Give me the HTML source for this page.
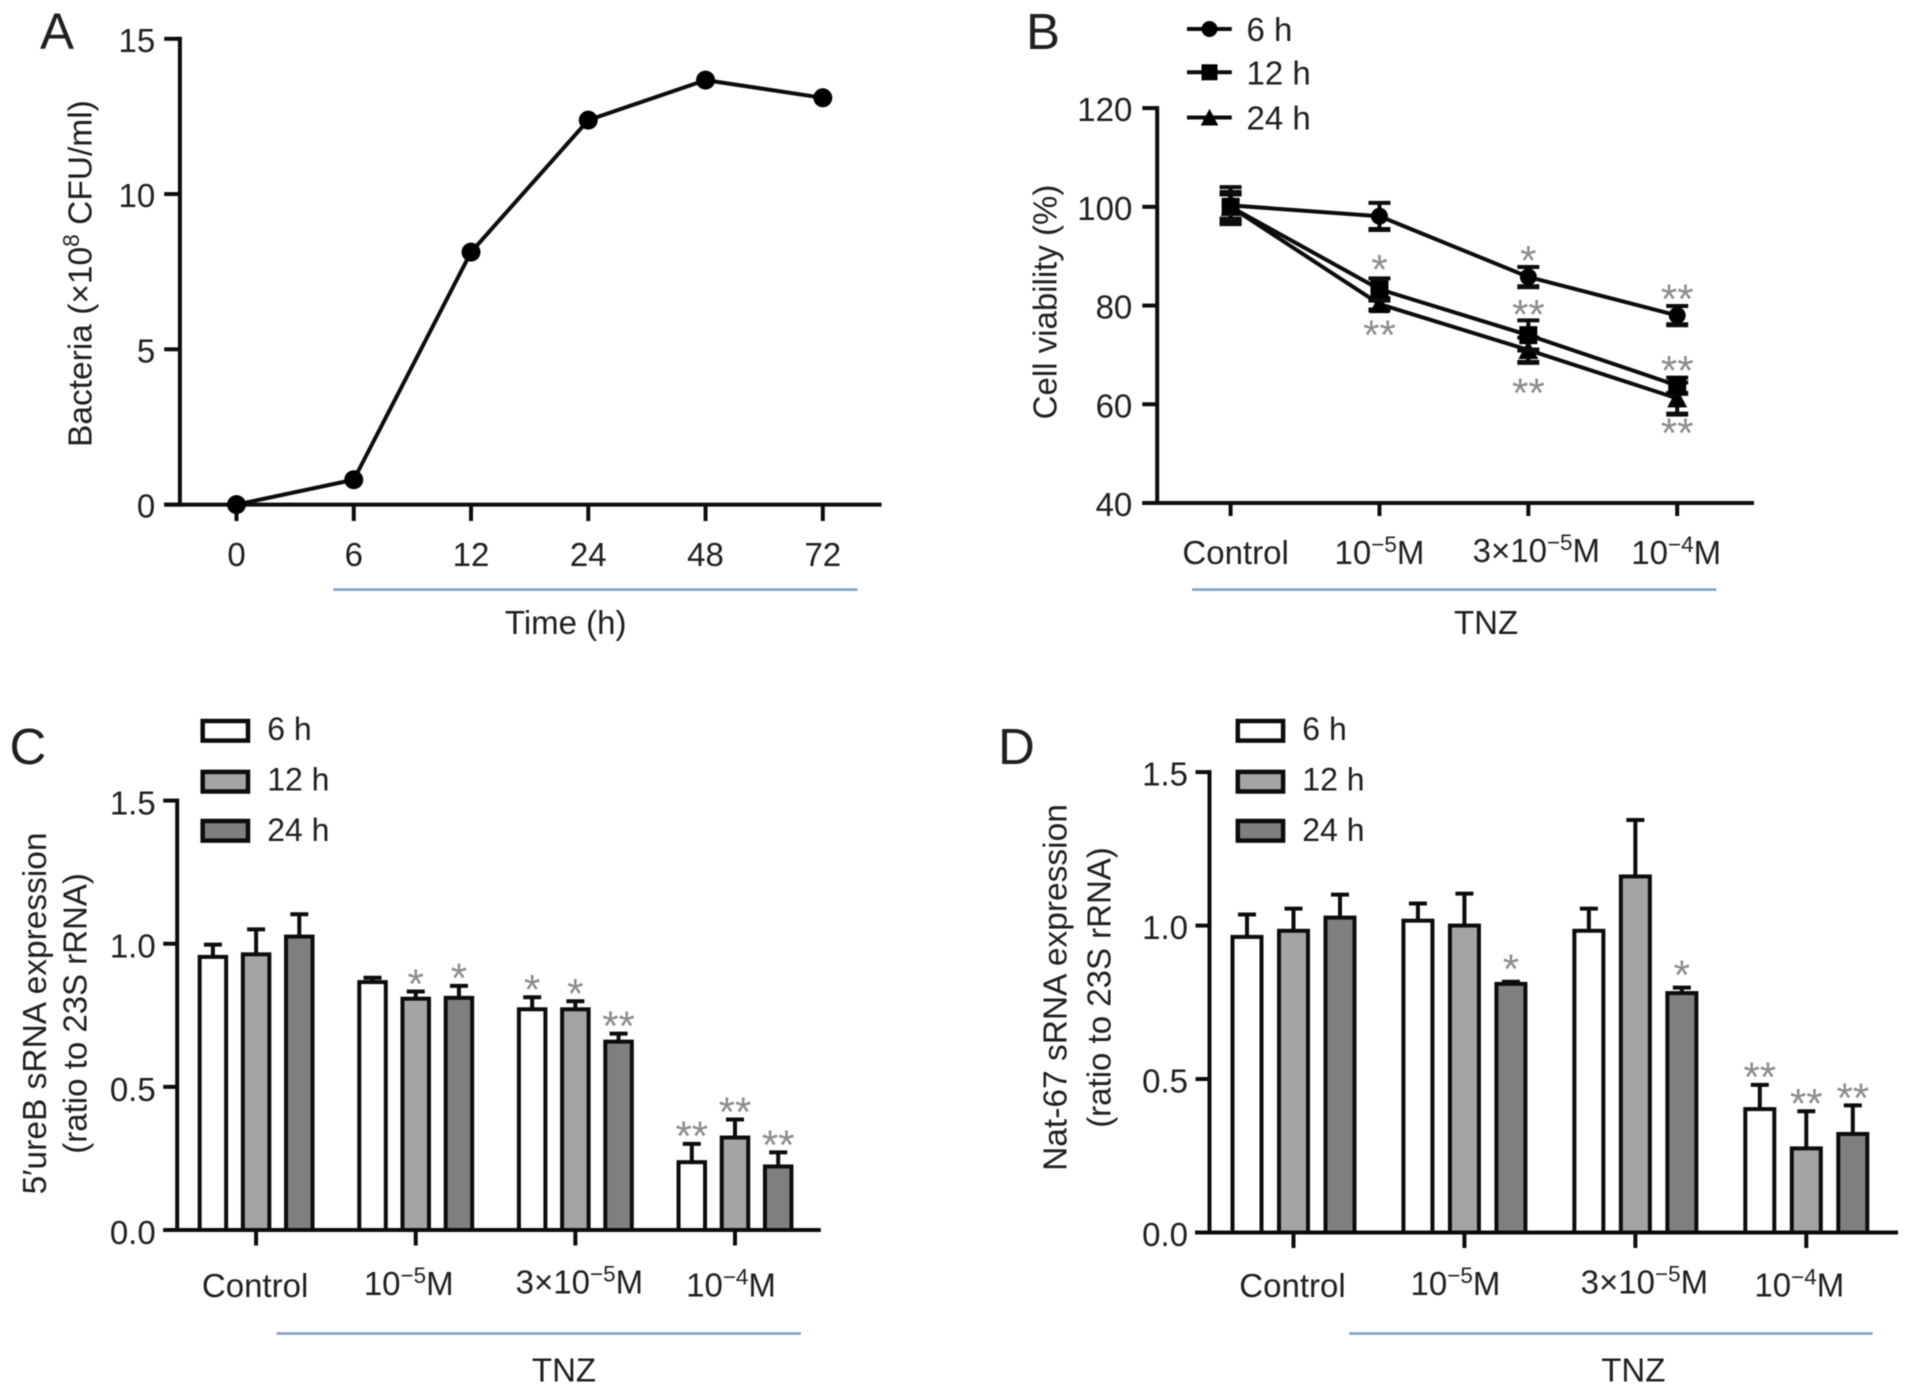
<!DOCTYPE html>
<html lang="en">
<head>
<meta charset="utf-8">
<title>TNZ bacteria, viability and sRNA expression figure</title>
<style>
  html, body { margin: 0; padding: 0; background: #fff; width: 1913px; height: 1394px; overflow: hidden; }
  svg { display: block; filter: blur(0.6px); }
  text { font-family: "Liberation Sans", sans-serif; fill: #202020; }
</style>
</head>
<body>
<svg id="figure" xmlns="http://www.w3.org/2000/svg" width="1913" height="1394" viewBox="0 0 1913 1394">
  <rect x="0" y="0" width="1913" height="1394" fill="#ffffff"/>
</svg>
<script>
// ---------- Panel A data ----------
const timeCategories = ['0', '6', '12', '24', '48', '72'];
const bacteriaValues = [0, 0.8, 8.13, 12.38, 13.67, 13.1];
const bacteriaTicks = [0, 5, 10, 15];

// ---------- Panel B data ----------
const doseCategories = ['Control', '10^−5^M', '3×10^−5^M', '10^−4^M'];
const viabilityTicks = [40, 60, 80, 100, 120];
const viability6h = [100.3, 98.1, 85.8, 78.0];
const viability12h = [100.0, 83.3, 74.0, 63.8];
const viability24h = [100.0, 80.3, 71.0, 61.2];
const viabilityErr6h = [3.7, 2.7, 2.0, 1.9];
const viabilityErr12h = [2.5, 2.2, 3.0, 1.6];
const viabilityErr24h = [3.0, 1.2, 2.5, 3.2];
const viabilityStarCats = [1, 1, 2, 2, 2, 3, 3, 3];
const viabilityStarValues = [88.8, 75.5, 90.6, 79.7, 63.8, 82.8, 68.3, 55.7];
const viabilityStarLabels = ['*', '**', '*', '**', '**', '**', '**', '**'];

// ---------- Panel C data ----------
const expressionTicks = [0, 0.5, 1, 1.5];
const ureB6h = [0.954, 0.866, 0.771, 0.237];
const ureB12h = [0.963, 0.808, 0.771, 0.323];
const ureB24h = [1.025, 0.811, 0.658, 0.222];
const ureBErr6h = [0.043, 0.015, 0.042, 0.064];
const ureBErr12h = [0.087, 0.025, 0.028, 0.063];
const ureBErr24h = [0.078, 0.042, 0.028, 0.049];
const ureBStars6h = ['', '', '*', '**'];
const ureBStars12h = ['', '*', '*', '**'];
const ureBStars24h = ['', '*', '**', '**'];

// ---------- Panel D data ----------
const nat6h = [0.963, 1.016, 0.983, 0.402];
const nat12h = [0.983, 1.0, 1.16, 0.274];
const nat24h = [1.026, 0.81, 0.78, 0.321];
const natErr6h = [0.073, 0.056, 0.072, 0.079];
const natErr12h = [0.072, 0.104, 0.184, 0.121];
const natErr24h = [0.075, 0.007, 0.018, 0.093];
const natStars6h = ['', '', '', '**'];
const natStars12h = ['', '', '', '**'];
const natStars24h = ['', '*', '*', '**'];

const seriesNames = ['6 h', '12 h', '24 h'];

// ---------- Helpers ----------
const NS = 'http://www.w3.org/2000/svg';
const root = document.getElementById('figure');
const INK = '#0c0c0c';
const FONT = 33;

function linear(d0, d1, r0, r1) {
  return function (v) { return r0 + (v - d0) * (r1 - r0) / (d1 - d0); };
}
function points(count, r0, r1) {
  return function (i) { return r0 + i * (r1 - r0) / (count - 1); };
}
function make(tag, parent, attrs) {
  const el = document.createElementNS(NS, tag);
  for (const k in attrs) el.setAttribute(k, attrs[k]);
  parent.appendChild(el);
  return el;
}
function group(parent, name) {
  const el = make('g', parent, {});
  
  
  return el;
}
function line(parent, name, x1, y1, x2, y2, color, width) {
  const el = make('line', parent, { x1: x1, y1: y1, x2: x2, y2: y2, stroke: color || INK, 'stroke-width': width || 4 });
  
  
  return el;
}
function label(parent, name, str, x, y, anchor, size, rotate) {
  const attrs = { x: x, y: y, 'text-anchor': anchor || 'middle', 'font-size': size || FONT };
  if (rotate) attrs.transform = 'rotate(-90 ' + x + ' ' + y + ')';
  const el = make('text', parent, attrs);
  
  
  const fs = size || FONT;
  const parts = String(str).split('^');
  parts.forEach(function (part, i) {
    if (!part) return;
    const span = document.createElementNS(NS, 'tspan');
    span.textContent = part;
    if (i % 2 === 1) {
      span.setAttribute('font-size', fs * 0.68);
      span.setAttribute('dy', -fs * 0.37);
    } else if (i > 0) {
      span.setAttribute('dy', fs * 0.37);
    }
    el.appendChild(span);
  });
  return el;
}
function star(parent, str, x, cy, size) {
  const s = size || 42;
  const el = make('text', parent, { x: x, y: cy + s * 0.52, 'text-anchor': 'middle', 'font-size': s });
  el.style.fill = '#8c8c8c';
  el.textContent = str;
  
  
  return el;
}
function yAxis(parent, scale, ticks, axisX, tickLeft, format, labelEnd, labelDrop) {
  const g = group(parent, 'y-axis');
  const vals = ticks.map(scale);
  line(g, 'y-axis-line', axisX, Math.min.apply(null, vals) - 2, axisX, Math.max.apply(null, vals) + 2);
  ticks.forEach(function (t) {
    const y = scale(t);
    line(g, 'y-axis-tick', tickLeft, y, axisX, y);
    label(g, 'y-tick-label', format(t), labelEnd, y + labelDrop, 'end');
  });
}
function xAxis(parent, xScale, count, y, x0, x1, tickBottom) {
  const g = group(parent, 'x-axis');
  line(g, 'x-axis-line', x0, y, x1, y);
  for (let i = 0; i < count; i++) {
    line(g, 'x-axis-tick', xScale(i), y, xScale(i), tickBottom);
  }
  return g;
}
function errorBar(parent, x, yTop, yBottom, half) {
  line(parent, 'error-bar', x, yTop, x, yBottom);
  line(parent, 'error-cap', x - half, yTop, x + half, yTop);
}
function marker(parent, kind, x, y, r) {
  let el;
  if (kind === 'circle') {
    el = make('circle', parent, { cx: x, cy: y, r: r, fill: '#000' });
  } else if (kind === 'square') {
    el = make('rect', parent, { x: x - r, y: y - r, width: 2 * r, height: 2 * r, fill: '#000' });
  } else {
    el = make('polygon', parent, { points: (x - r * 1.1) + ',' + (y + r) + ' ' + (x + r * 1.1) + ',' + (y + r) + ' ' + x + ',' + (y - r * 1.1), fill: '#000' });
  }
  
  
  return el;
}
function polyline(parent, name, pts) {
  const el = make('polyline', parent, { points: pts.map(function (p) { return p[0] + ',' + p[1]; }).join(' '), fill: 'none', stroke: INK, 'stroke-width': 4, 'stroke-linejoin': 'round' });
  
  
  return el;
}
function blueRule(parent, x1, x2, y) {
  line(parent, 'treatment-bracket-line', x1, y, x2, y, '#7f9dc6', 2.5);
}

// ---------- Panel A ----------
(function () {
  const p = group(root, 'panel-a');
  const x = points(timeCategories.length, 236.5, 822.8);
  const y = linear(0, 15, 504.6, 38.8);
  label(p, 'panel-letter-a', 'A', 40, 49, 'start', 51);
  yAxis(p, y, bacteriaTicks, 179.9, 164.2, String, 155.2, 13);
  xAxis(p, x, timeCategories.length, y(0), 164.2, 881.5, 521);
  label(p, 'y-axis-title', 'Bacteria (×10^8^ CFU/ml)', 91.5, 273.6, 'middle', 33.5, true);
  timeCategories.forEach(function (c, i) {
    label(p, 'x-tick-label', c, x(i), 566);
  });
  polyline(p, 'bacteria-line', bacteriaValues.map(function (v, i) { return [x(i), y(v)]; }));
  bacteriaValues.forEach(function (v, i) {
    marker(p, 'circle', x(i), y(v), 9.5);
  });
  blueRule(p, 333.3, 857.6, 589.6);
  label(p, 'x-axis-title', 'Time (h)', 565.7, 633.8);
})();

// ---------- Panel B ----------
(function () {
  const p = group(root, 'panel-b');
  const x = points(doseCategories.length, 1230.6, 1677.2);
  const y = linear(40, 120, 503, 108.1);
  label(p, 'panel-letter-b', 'B', 1026, 49, 'start', 51);
  yAxis(p, y, viabilityTicks, 1157.2, 1142.3, String, 1132.3, 13);
  xAxis(p, x, doseCategories.length, y(40), 1142.3, 1754, 516);
  label(p, 'y-axis-title', 'Cell viability (%)', 1056.7, 302, 'middle', 33, true);
  label(p, 'x-tick-label', doseCategories[0], x(0) + 5, 564);
  label(p, 'x-tick-label', doseCategories[1], x(1), 564);
  label(p, 'x-tick-label', doseCategories[2], x(2) + 8, 562);
  label(p, 'x-tick-label', doseCategories[3], x(3) - 1, 564);
  const rows = [
    ['24h', viability24h, viabilityErr24h, 'triangle'],
    ['12h', viability12h, viabilityErr12h, 'square'],
    ['6h', viability6h, viabilityErr6h, 'circle']
  ];
  rows.forEach(function (row) {
    const g = group(p, 'series-' + row[0]);
    polyline(g, 'viability-line-' + row[0], row[1].map(function (v, i) { return [x(i), y(v)]; }));
    row[1].forEach(function (v, i) {
      errorBar(g, x(i), y(v + row[2][i]), y(v - row[2][i]), 11);
      line(g, 'error-cap', x(i) - 11, y(v - row[2][i]), x(i) + 11, y(v - row[2][i]), INK, 5);
      marker(g, row[3], x(i), y(v), row[3] === 'circle' ? 8.5 : 9);
    });
  });
  viabilityStarLabels.forEach(function (s, i) {
    star(p, s, x(viabilityStarCats[i]), y(viabilityStarValues[i]));
  });
  const kinds = ['circle', 'square', 'triangle'];
  const legendRows = [29, 72.3, 117.5];
  const legend = group(p, 'legend');
  seriesNames.forEach(function (n, i) {
    const g = group(legend, 'legend-entry');
    line(g, 'legend-line', 1187, legendRows[i], 1231.8, legendRows[i]);
    marker(g, kinds[i], 1209.5, legendRows[i], 8);
    label(g, 'legend-label', n, 1246.5, legendRows[i] + 12, 'start');
  });
  blueRule(p, 1192, 1716.3, 589.6);
  label(p, 'x-axis-title', 'TNZ', 1486.1, 633.8);
})();

// ---------- Shared bar panels ----------
function barPanel(o) {
  const p = group(root, o.name);
  const x = points(doseCategories.length, o.x0, o.x1);
  const y = linear(0, 1.5, o.y0, o.y15);
  label(p, o.letterName, o.letter, o.letterX, 764, 'start', 51);
  label(p, 'y-axis-title', o.title, o.titleX1, o.titleY, 'middle', 33.5, true);
  label(p, 'y-axis-subtitle', '(ratio to 23S rRNA)', o.titleX2, o.titleY, 'middle', 33, true);
  const fills = ['#ffffff', '#a4a4a7', '#7f7f7f'];
  const offsets = [-1, 0, 1];
  o.series.forEach(function (vals, s) {
    const g = group(p, 'series-' + seriesNames[s].replace(' ', ''));
    vals.forEach(function (v, i) {
      const cx = x(i) + offsets[s] * o.pitch;
      const top = y(v);
      const errTop = y(v + o.errors[s][i]);
      errorBar(g, cx, errTop, top, 9);
      const bar = make('rect', g, { x: cx - o.barW / 2, y: top, width: o.barW, height: y(0) - top, fill: fills[s], stroke: INK, 'stroke-width': 4 });
      
      
      const mark = o.stars[s][i];
      if (mark) {
        star(g, mark, cx, errTop - (mark === '*' ? o.singleGap : 15));
      }
    });
  });
  yAxis(p, y, expressionTicks, o.axisX, o.axisX - 14, function (t) { return t.toFixed(1); }, o.axisX - 21.5, o.tickDrop);
  xAxis(p, x, doseCategories.length, y(0), o.axisStart, o.axisEnd, o.y0 + 15.5);
  label(p, 'x-tick-label', doseCategories[0], x(0) + o.nudge[0], 1297);
  label(p, 'x-tick-label', doseCategories[1], x(1) + o.nudge[1], 1295);
  label(p, 'x-tick-label', doseCategories[2], x(2) + o.nudge[2], 1293.5);
  label(p, 'x-tick-label', doseCategories[3], x(3) + o.nudge[3], 1296.5);
  const legend = group(p, 'legend');
  const legendY = [730.8, 781.7, 830.8];
  const legendBaseline = [740, 790.5, 841];
  seriesNames.forEach(function (n, i) {
    const g = group(legend, 'legend-entry');
    const box = make('rect', g, { x: o.legendX, y: legendY[i] - 9.8, width: 45.3, height: 19.6, fill: fills[i], stroke: INK, 'stroke-width': 4.5 });
    
    
    label(g, 'legend-label', n, o.legendX + 64.5, legendBaseline[i], 'start', 32);
  });
  blueRule(p, o.ruleX1, o.ruleX2, 1333.5);
  label(p, 'x-axis-title', 'TNZ', o.tnzX, 1381.5);
}

// ---------- Panel C ----------
barPanel({
  name: 'panel-c', letter: 'C', letterName: 'panel-letter-c', letterX: 9.5,
  title: '5′ureB sRNA expression', titleX1: 45.8, titleX2: 86.6, titleY: 1013.4,
  x0: 256.1, x1: 735, y0: 1230, y15: 800.6, axisX: 177.2, axisStart: 163.2, axisEnd: 820.8,
  pitch: 43.2, barW: 26.5, singleGap: 15, tickDrop: 14,
  series: [ureB6h, ureB12h, ureB24h], errors: [ureBErr6h, ureBErr12h, ureBErr24h], stars: [ureBStars6h, ureBStars12h, ureBStars24h],
  nudge: [-1, -7, 4, -4], legendX: 202.7, ruleX1: 276.6, ruleX2: 800.9, tnzX: 564
});

// ---------- Panel D ----------
barPanel({
  name: 'panel-d', letter: 'D', letterName: 'panel-letter-d', letterX: 998,
  title: 'Nat-67 sRNA expression', titleX1: 1066.7, titleX2: 1110.4, titleY: 987.5,
  x0: 1293.5, x1: 1806.3, y0: 1232.5, y15: 772.1, axisX: 1209.5, axisStart: 1195, axisEnd: 1898,
  pitch: 46.5, barW: 29, singleGap: 20, tickDrop: 13.5,
  series: [nat6h, nat12h, nat24h], errors: [natErr6h, natErr12h, natErr24h], stars: [natStars6h, natStars12h, natStars24h],
  nudge: [-1, -9, 9, -7], legendX: 1237.8, ruleX1: 1349.2, ruleX2: 1872.7, tnzX: 1633.3
});
</script>
</body>
</html>
